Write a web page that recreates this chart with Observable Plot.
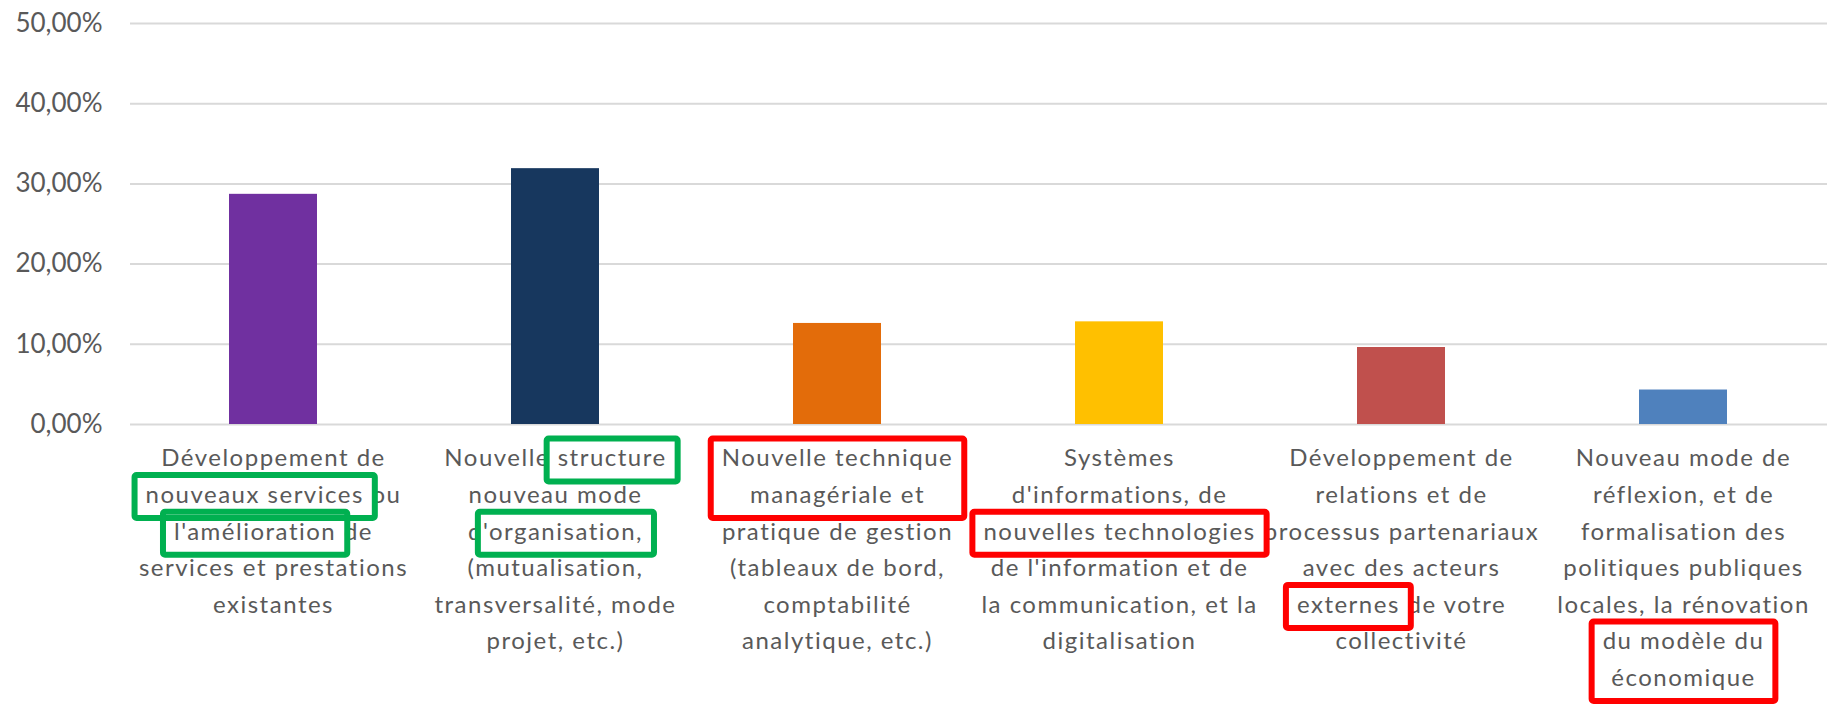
<!DOCTYPE html>
<html>
<head>
<meta charset="utf-8">
<script src="https://cdn.jsdelivr.net/npm/d3@7"></script>
<script src="https://cdn.jsdelivr.net/npm/@observablehq/plot@0.6"></script>
<style>
  body { margin: 0; background: #ffffff; }
  #chart svg { display: block; }
  g[aria-label="x-axis tick label"] { letter-spacing: 1.5px; }
  g[aria-label="y-axis tick label"] { font-size: 26px; }
</style>
</head>
<body>
<div id="chart"></div>
<script>
// ---- Data ----
const categories = [
  "Développement de\nnouveaux services ou\nl'amélioration de\nservices et prestations\nexistantes",
  "Nouvelle structure\nnouveau mode\nd'organisation,\n(mutualisation,\ntransversalité, mode\nprojet, etc.)",
  "Nouvelle technique\nmanagériale et\npratique de gestion\n(tableaux de bord,\ncomptabilité\nanalytique, etc.)",
  "Systèmes\nd'informations, de\nnouvelles technologies\nde l'information et de\nla communication, et la\ndigitalisation",
  "Développement de\nrelations et de\nprocessus partenariaux\navec des acteurs\nexternes de votre\ncollectivité",
  "Nouveau mode de\nréflexion, et de\nformalisation des\npolitiques publiques\nlocales, la rénovation\ndu modèle du\néconomique"
];
const values = [0.287, 0.319, 0.126, 0.128, 0.096, 0.043];
const colors = ["#7030A0", "#17375E", "#E36C0A", "#FFC000", "#C0504D", "#4F81BD"];
const yTicks = [0, 0.1, 0.2, 0.3, 0.4, 0.5];

// Annotation boxes drawn around words of the category labels
const hlCategory = [0, 0, 1, 1, 2, 3, 4, 5];
const hlFirstLine = [1, 2, 0, 2, 0, 2, 4, 5];
const hlLastLine  = [1, 2, 0, 2, 1, 2, 4, 6];
const hlText = ["nouveaux services", "l'amélioration", "structure", "organisation,", null, "nouvelles technologies", "externes", null];
const hlColor = ["#00B050", "#00B050", "#00B050", "#00B050", "#FF0000", "#FF0000", "#FF0000", "#FF0000"];

const data = categories.map((c, i) => ({category: c, value: values[i], color: colors[i]}));

const chart = Plot.plot({
  width: 1827,
  height: 711,
  marginLeft: 130,
  marginRight: 0,
  marginTop: 23,
  marginBottom: 287,
  style: {fontFamily: "Lato, sans-serif", fontSize: "24px", color: "#595959", background: "#ffffff"},
  x: {domain: categories, paddingInner: 0.687, paddingOuter: 0.3435, label: null},
  y: {domain: [0, 0.5], label: null},
  marks: [
    Plot.ruleY(yTicks, {stroke: "#d9d9d9", strokeWidth: 2}),
    Plot.barY(data, {x: "category", y: "value", fill: "color"}),
    Plot.axisY(yTicks, {
      tickSize: 0, tickPadding: 28, label: null,
      tickFormat: d => (d * 100).toFixed(2).replace(".", ",") + "%"
    }),
    Plot.axisX({tickSize: 0, tickPadding: 16, lineHeight: 1.525, label: null})
  ]
});

document.getElementById("chart").append(chart);

// ---- Annotation boxes, measured from the rendered tick labels ----
const svg = d3.select(chart);
const texts = chart.querySelectorAll('g[aria-label="x-axis tick label"] text');
const pad = 11;
hlCategory.forEach((cat, k) => {
  const t = texts[cat];
  if (!t) return;
  const tspans = Array.from(t.querySelectorAll("tspan"));
  const lines = tspans.length ? tspans.map(s => s.textContent) : [t.textContent];
  const m = t.getCTM();
  const tr = (x, y) => ({x: m.a * x + m.c * y + m.e, y: m.b * x + m.d * y + m.f});
  let x0 = Infinity, x1 = -Infinity, yTop = Infinity, yBot = -Infinity;
  for (let li = hlFirstLine[k]; li <= hlLastLine[k]; li++) {
    const offset = lines.slice(0, li).reduce((s, l) => s + l.length, 0);
    const s = lines[li];
    let start = 0, len = s.length;
    if (hlText[k]) { start = s.indexOf(hlText[k]); len = hlText[k].length; }
    const a = t.getExtentOfChar(offset + start);
    const b = t.getExtentOfChar(offset + start + len - 1);
    const base = t.getStartPositionOfChar(offset + start);
    const p0 = tr(a.x, base.y);
    const p1 = tr(b.x + b.width, base.y);
    x0 = Math.min(x0, p0.x); x1 = Math.max(x1, p1.x);
    yTop = Math.min(yTop, p0.y); yBot = Math.max(yBot, p0.y);
  }
  svg.append("rect")
    .attr("x", x0 - pad)
    .attr("y", yTop - 28)
    .attr("width", x1 - x0 + 2 * pad)
    .attr("height", yBot - yTop + 43)
    .attr("rx", 2)
    .attr("fill", "none")
    .attr("stroke", hlColor[k])
    .attr("stroke-width", 6);
});
</script>
</body>
</html>
